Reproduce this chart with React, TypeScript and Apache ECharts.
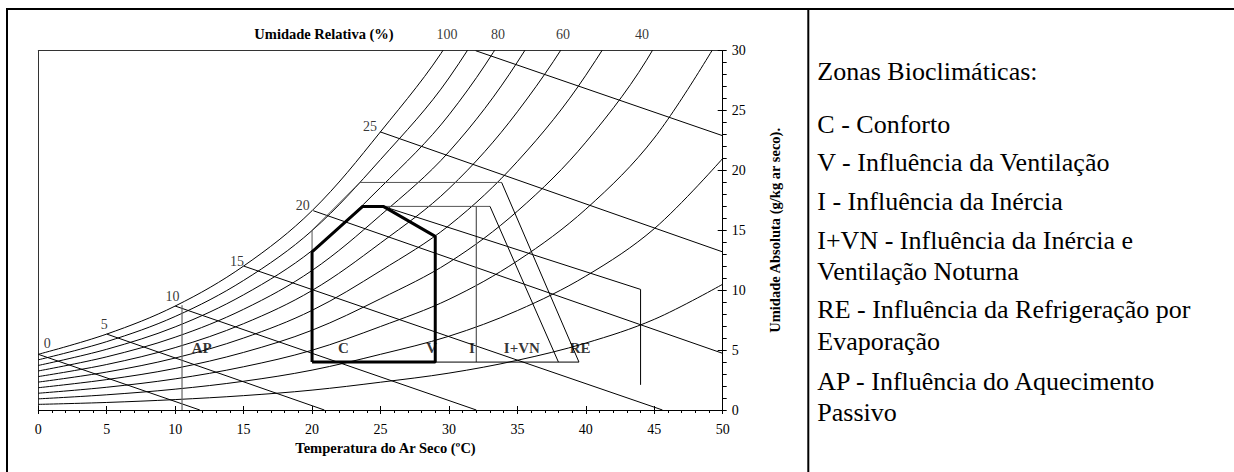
import React, { useEffect, useRef } from "react";
import * as echarts from "echarts";

// ---------- data ----------
const temps = [0, 5, 10, 15, 20, 25, 30, 35, 40, 45, 50];

// relative-humidity curves: absolute humidity (g/kg) at each temperature above
const rh100 = [4.65, 6.34, 8.68, 12.02, 16.64, 23.23, 30.8, 41.5, 55.9, 75.7, 105];
const rh90 = [4.19, 5.71, 7.81, 10.82, 14.98, 20.91, 27.72, 37.35, 50.31, 68.13, 94.5];
const rh80 = [3.72, 5.07, 6.94, 9.62, 13.31, 18.58, 24.64, 33.2, 44.72, 60.56, 84];
const rh70 = [3.26, 4.44, 6.08, 8.41, 11.65, 16.26, 21.56, 29.05, 39.13, 52.99, 73.5];
const rh60 = [2.79, 3.8, 5.21, 7.21, 9.98, 13.94, 18.48, 24.9, 33.54, 45.42, 63];
const rh50 = [2.33, 3.17, 4.34, 6.01, 8.32, 11.62, 15.4, 20.75, 27.95, 37.85, 52.5];
const rh40 = [1.86, 2.54, 3.47, 4.81, 6.66, 9.29, 12.32, 16.6, 22.36, 30.28, 42];
const rh30 = [1.4, 1.9, 2.6, 3.61, 4.99, 6.97, 9.24, 12.45, 16.77, 22.71, 31.5];
const rh20 = [0.93, 1.27, 1.74, 2.4, 3.33, 4.65, 6.16, 8.3, 11.18, 15.14, 21];
const rh10 = [0.47, 0.63, 0.87, 1.2, 1.66, 2.32, 3.08, 4.15, 5.59, 7.57, 10.5];
const rhCurves = [rh100, rh90, rh80, rh70, rh60, rh50, rh40, rh30, rh20, rh10];

// relative-humidity labels on top of the chart (value, temperature where shown)
const rhLabelValues = ["100", "80", "60", "40"];
const rhLabelTemps = [29.85, 33.58, 38.33, 44.1];

// wet-bulb lines: label, start point (on saturation curve), end point
const wbLabels = ["0", "5", "10", "15", "20", "25"];
const wbStart = [[0, 4.65], [5, 6.34], [10, 8.68], [15, 12.02], [20.09, 16.64], [24.96, 23.23]];
const wbEnd = [[11.8, 0], [20.9, 0], [32.0, 0], [45.6, 0], [50, 4.73], [50, 13.2]];
const wb30 = [[31.95, 30], [50, 22.9]];

// bioclimatic zones
const comfortZone = [[20, 4], [20, 13.2], [23.7, 17], [25.2, 17], [29, 14.5], [29, 4], [20, 4]];
const ventilationTop = [[20, 13.2], [20, 15], [23.5, 19], [33.85, 19]];
const ventilationSlope = [[33.85, 19], [39.5, 4]];
const inertiaTop = [[25.2, 17], [33, 17]];
const inertiaSlope = [[33, 17], [38, 4]];
const inertiaDivider = [[32, 17], [32, 4]];
const zoneBase = [[29, 4], [39.5, 4]];
const evaporativeLimit = [[25.2, 17], [44, 10.07], [44, 2.1]];
const heatingLimit = [[10.5, 0], [10.5, 8.75]];

const zoneNames = ["AP", "C", "V", "I", "I+VN", "RE"];
const zoneLabelTemps = [11.94, 22.3, 28.74, 31.68, 35.33, 39.59];
const zoneLabelHumidity = 5.2;

const legendLines = [
  "Zonas Bioclimáticas:",
  "C - Conforto",
  "V - Influência da Ventilação",
  "I - Influência da Inércia",
  "I+VN - Influência da Inércia e",
  "Ventilação Noturna",
  "RE - Influência da Refrigeração por",
  "Evaporação",
  "AP - Influência do Aquecimento",
  "Passivo",
];

// ---------- styling / layout ----------
const serif = "'Liberation Serif', 'Times New Roman', serif";
const wbOffsets = [[9, -11], [-2.4, -9.7], [-2.7, -9.3], [-6.6, -4.3], [-10.6, -5.4], [-10, -5]];
const legendY = [71.2, 124.5, 162.9, 201.2, 240.5, 271.2, 309.5, 341.2, 381.2, 412.9];

function lineSeries(points: number[][], color: string, width: number, smooth: boolean | number = false) {
  return {
    type: "line",
    data: points,
    smooth,
    symbol: "none",
    silent: true,
    clip: true,
    lineStyle: { color, width },
    xAxisIndex: 0,
    yAxisIndex: 0,
    z: 3,
  };
}

function buildOption() {
  const series: any[] = [];
  rhCurves.forEach((c) => {
    series.push(lineSeries(temps.map((t, i) => [t, c[i]]), "#000", 1, 0.35));
  });
  wbStart.forEach((s, i) => series.push(lineSeries([s, wbEnd[i]], "#000", 1)));
  series.push(lineSeries(wb30, "#000", 1));

  series.push(lineSeries(ventilationTop, "#555", 1));
  series.push(lineSeries(ventilationSlope, "#000", 1));
  series.push(lineSeries(inertiaTop, "#555", 1));
  series.push(lineSeries(inertiaSlope, "#000", 1));
  series.push(lineSeries(inertiaDivider, "#555", 1.2));
  series.push(lineSeries(zoneBase, "#000", 1));
  series.push(lineSeries(evaporativeLimit, "#000", 1));
  series.push(lineSeries(heatingLimit, "#666", 1.2));
  const comfort = lineSeries(comfortZone, "#000", 3);
  comfort.z = 5;
  series.push(comfort);

  // wet-bulb labels
  series.push({
    type: "scatter",
    symbolSize: 1,
    clip: false,
    silent: true,
    itemStyle: { color: "rgba(0,0,0,0)" },
    data: wbStart.map((s, i) => ({
      name: wbLabels[i],
      value: s,
      label: { offset: wbOffsets[i] },
    })),
    label: {
      show: true,
      position: "inside",
      formatter: "{b}",
      color: "#000",
      fontFamily: serif,
      fontSize: 14,
    },
    z: 6,
  });

  // RH labels at top
  series.push({
    type: "scatter",
    symbolSize: 1,
    clip: false,
    silent: true,
    itemStyle: { color: "rgba(0,0,0,0)" },
    data: rhLabelValues.map((v, i) => ({ name: v, value: [rhLabelTemps[i], 30] })),
    label: {
      show: true,
      position: "inside",
      offset: [0, -16.5],
      formatter: "{b}",
      color: "#000",
      fontFamily: serif,
      fontSize: 14,
    },
    z: 6,
  });

  // zone labels
  series.push({
    type: "scatter",
    symbolSize: 1,
    clip: false,
    silent: true,
    itemStyle: { color: "rgba(0,0,0,0)" },
    data: zoneNames.map((n, i) => ({ name: n, value: [zoneLabelTemps[i], zoneLabelHumidity] })),
    label: {
      show: true,
      position: "inside",
      formatter: "{b}",
      color: "#000",
      fontFamily: serif,
      fontWeight: "bold",
      fontSize: 15,
    },
    z: 6,
  });

  const graphic: any[] = [
    { type: "line", shape: { x1: 7, y1: 8, x2: 7, y2: 472 }, style: { stroke: "#000", lineWidth: 2 } },
    { type: "line", shape: { x1: 6, y1: 9, x2: 1234, y2: 9 }, style: { stroke: "#000", lineWidth: 2 } },
    { type: "line", shape: { x1: 808.3, y1: 8, x2: 808.3, y2: 472 }, style: { stroke: "#000", lineWidth: 2 } },
    {
      type: "text",
      x: 324,
      y: 34,
      style: {
        text: "Umidade Relativa (%)",
        fill: "#000",
        font: `bold 14.5px ${serif}`,
        align: "center",
        verticalAlign: "middle",
      },
    },
  ];
  legendLines.forEach((t, i) => {
    graphic.push({
      type: "text",
      x: 817.3,
      y: legendY[i],
      style: {
        text: t,
        fill: "#000",
        font: `26px ${serif}`,
        align: "left",
        verticalAlign: "middle",
      },
    });
  });

  const axisLineStyle = { color: "#000", width: 1 };
  return {
    animation: false,
    backgroundColor: "#fff",
    grid: { left: 38.3, top: 50.7, right: 1234 - 722.7, bottom: 472 - 410, containLabel: false },
    xAxis: [
      {
        type: "value",
        min: 0,
        max: 50,
        interval: 5,
        position: "bottom",
        axisLine: { show: true, onZero: false, lineStyle: axisLineStyle },
        axisTick: { show: true, inside: false, length: 4, lineStyle: axisLineStyle },
        minorTick: { show: true, splitNumber: 5, length: 3, lineStyle: axisLineStyle },
        axisLabel: { color: "#000", fontFamily: serif, fontSize: 14, margin: 12 },
        splitLine: { show: false },
        minorSplitLine: { show: false },
        name: "Temperatura do Ar Seco (ºC)",
        nameLocation: "middle",
        nameGap: 28,
        nameTextStyle: { fontFamily: serif, fontWeight: "bold", fontSize: 14.5, color: "#000", padding: [0, 0, 0, 10] },
      },
      {
        type: "value",
        min: 0,
        max: 50,
        interval: 5,
        position: "bottom",
        axisLine: { show: false, onZero: false },
        axisTick: { show: true, inside: true, length: 4, lineStyle: axisLineStyle },
        axisLabel: { show: false },
        splitLine: { show: false },
      },
      {
        type: "value",
        min: 0,
        max: 50,
        position: "top",
        axisLine: { show: true, onZero: false, lineStyle: { color: "#333", width: 1 } },
        axisTick: { show: false },
        axisLabel: { show: false },
        splitLine: { show: false },
      },
    ],
    yAxis: [
      {
        type: "value",
        min: 0,
        max: 30,
        interval: 5,
        position: "right",
        axisLine: { show: true, onZero: false, lineStyle: axisLineStyle },
        axisTick: { show: true, inside: false, length: 4, lineStyle: axisLineStyle },
        minorTick: { show: true, splitNumber: 5, length: 4, lineStyle: axisLineStyle },
        axisLabel: { color: "#000", fontFamily: serif, fontSize: 14, margin: 9 },
        splitLine: { show: false },
        minorSplitLine: { show: false },
        name: "Umidade Absoluta (g/kg ar seco).",
        nameLocation: "middle",
        nameRotate: 90,
        nameGap: 45,
        nameTextStyle: { fontFamily: serif, fontWeight: "bold", fontSize: 14.5, color: "#000" },
      },
      {
        type: "value",
        min: 0,
        max: 30,
        interval: 5,
        position: "right",
        axisLine: { show: false, onZero: false },
        axisTick: { show: true, inside: true, length: 5, lineStyle: axisLineStyle },
        axisLabel: { show: false },
        splitLine: { show: false },
      },
      {
        type: "value",
        min: 0,
        max: 30,
        position: "left",
        axisLine: { show: true, onZero: false, lineStyle: { color: "#333", width: 1 } },
        axisTick: { show: false },
        axisLabel: { show: false },
        splitLine: { show: false },
      },
    ],
    series,
    graphic,
  };
}

export default function App() {
  const ref = useRef<HTMLDivElement>(null);
  useEffect(() => {
    if (!ref.current) return;
    const chart = echarts.init(ref.current, null, { renderer: "svg" });
    chart.setOption(buildOption() as any);
    return () => chart.dispose();
  }, []);
  return (
    <div
      ref={ref}
      style={{ position: "fixed", left: 0, top: 0, width: 1234, height: 472, background: "#fff" }}
    />
  );
}
